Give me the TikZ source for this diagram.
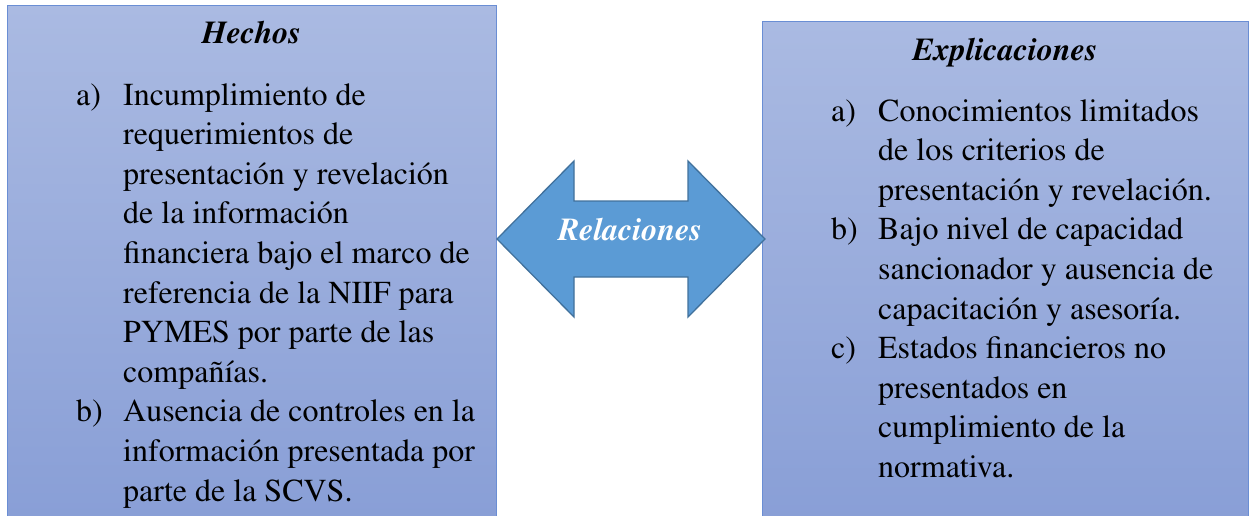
\documentclass[tikz,border=0pt]{standalone}
\usepackage[T1]{fontenc}
\renewcommand{\rmdefault}{ptm}
\usepackage{xcolor}
\usetikzlibrary{positioning}

\definecolor{boxtop}{HTML}{AABAE2}
\definecolor{boxbot}{HTML}{889ED6}
\definecolor{boxline}{HTML}{6A8ED4}
\definecolor{arrowfill}{HTML}{5B9BD5}
\definecolor{arrowline}{HTML}{41719C}

\begin{document}
\begin{tikzpicture}[x=1pt, y=-1pt,
					every node/.style={inner sep=0pt, font=\fontsize{32}{39.6}\selectfont},
					panel/.style={draw=boxline, line width=1.3pt, top color=boxtop, bottom color=boxbot},
					heading/.style={anchor=base, font=\fontsize{32}{39.6}\selectfont\bfseries\itshape},
					itemlist/.style={anchor=base west, align=left}]
				\useasboundingbox (0,0) rectangle (1256,515);
				\clip (0,0) rectangle (1256,515);
				% two panels
				\node[panel, minimum width=489pt, minimum height=525pt, anchor=north west] (hechosbox) at (7,5) {};
				\node[panel, minimum width=486pt, minimum height=510pt, anchor=north west] (explbox) at (762,21) {};
				\node[heading] (hechos) at (251.5,43) {Hechos};
				\node[heading] (expl) at (1005,60) {Explicaciones};
				\node[itemlist] (hlist) at (76,105) {\begin{tabular}[t]{@{}p{47pt}@{}l@{}}
						a) & Incumplimiento de\\
						   & requerimientos de\\
						   & presentación y revelación\\
						   & de la información\\
						   & financiera bajo el marco de\\
						   & referencia de la NIIF para\\
						   & PYMES por parte de las\\
						   & compañías.\\
						b) & Ausencia de controles en la\\
						   & información presentada por\\
						   & parte de la SCVS.
					\end{tabular}};
				\node[itemlist] (elist) at (831,121) {\begin{tabular}[t]{@{}p{47pt}@{}l@{}}
						a) & Conocimientos limitados\\
						   & de los criterios de\\
						   & presentación y revelación.\\
						b) & Bajo nivel de capacidad\\
						   & sancionador y ausencia de\\
						   & capacitación y asesoría.\\
						c) & Estados financieros no\\
						   & presentados en\\
						   & cumplimiento de la\\
						   & normativa.
					\end{tabular}};
				% double arrow between the panels
				\draw[fill=arrowfill, draw=arrowline, line width=1.3pt, line join=miter]
					(497,239) -- (574,161) -- (574,201) -- (688,201) -- (688,161) -- (765,239)
					-- (688,317) -- (688,277) -- (574,277) -- (574,317) -- cycle;
				\node[heading, text=white] (rel) at (630,240) {Relaciones};
			\end{tikzpicture}
\end{document}
